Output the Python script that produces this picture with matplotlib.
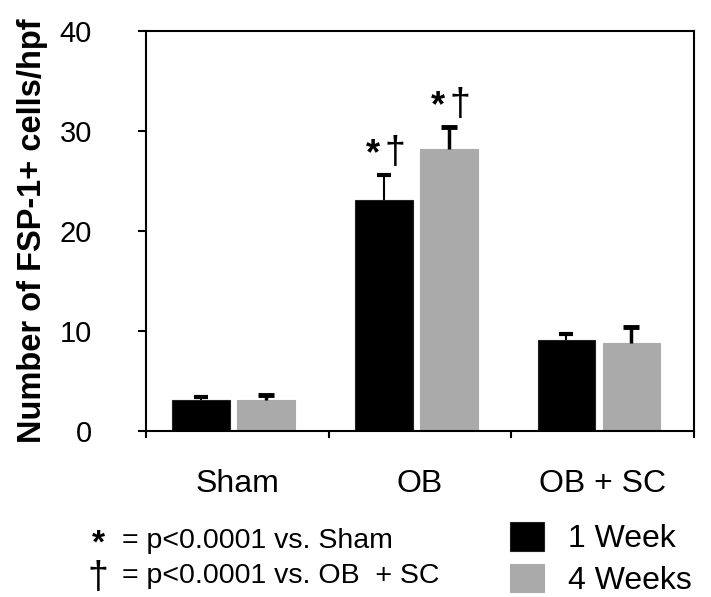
import numpy as np
import matplotlib
matplotlib.use("Agg")
import matplotlib.pyplot as plt

plt.rcParams['font.family'] = ['Liberation Sans', 'DejaVu Sans']

# data
groups = ['Sham', 'OB', 'OB + SC']
week1 = [3.1, 23.1, 9.15]
week1_err = [0.3, 2.5, 0.55]
week4 = [3.1, 28.25, 8.8]
week4_err = [0.5, 2.15, 1.6]
series_names = ['1 Week', '4 Weeks']
signif = [False, True, False]

fig = plt.figure(figsize=(7.11, 5.97), dpi=100)
ax = fig.add_axes([0.2053, 0.278, 0.7707, 0.67])

x = np.arange(len(groups))
w = 0.315
x1 = x - 0.198
x2 = x + 0.158
gray = '#aaaaaa'

b1 = ax.bar(x1, week1, w, color='black', edgecolor='#222222', linewidth=0.8,
            label=series_names[0], zorder=2)
b2 = ax.bar(x2, week4, w, color=gray, edgecolor=gray, linewidth=0.8,
            label=series_names[1], zorder=2)

# upper error bars only (hide the lower caps)
e1 = ax.errorbar(x1, week1, yerr=[np.zeros(3), week1_err], fmt='none',
                 ecolor='black', elinewidth=1.5, capsize=5, capthick=3, zorder=3)
e2 = ax.errorbar(x2, week4, yerr=[np.zeros(3), week4_err], fmt='none',
                 ecolor='black', elinewidth=2.5, capsize=6, capthick=3.5, zorder=3)
e1[1][0].set_visible(False)
e2[1][0].set_visible(False)

# significance marks over the OB bars
for i in range(len(groups)):
    if signif[i]:
        for xc, top in [(x1[i], week1[i] + week1_err[i]), (x2[i], week4[i] + week4_err[i])]:
            ax.annotate('*', (xc, top + 2.0), xytext=(-8, 0), textcoords='offset points',
                        ha='center', va='center', fontsize=26, fontweight='bold')
            ax.annotate('\u2020', (xc, top + 2.2), xytext=(8, 0), textcoords='offset points',
                        ha='center', va='center', fontsize=27)

ax.set_xlim(-0.5, 2.5)
ax.set_ylim(0, 40)
ax.set_yticks([0, 10, 20, 30, 40])
ax.tick_params(axis='y', direction='out', length=6, width=1.5, labelsize=21, pad=33)
for lab in ax.get_yticklabels():
    lab.set_horizontalalignment('right')

ax.set_xticks([-0.5, 0.5, 1.5, 2.5])
ax.set_xticklabels([])
ax.tick_params(axis='x', which='major', direction='out', length=5, width=1.5)
ax.set_xticks(x, minor=True)
ax.set_xticklabels(groups, minor=True)
ax.tick_params(axis='x', which='minor', length=0, labelsize=23, pad=27)

for s in ax.spines.values():
    s.set_linewidth(1.5)

ax.set_ylabel('Number of FSP-1+ cells/hpf', fontsize=23.5, fontweight='bold', labelpad=8)

# footnotes
fig.text(98 / 711, 1 - 553 / 597, '*', fontsize=24, fontweight='bold', ha='center', va='baseline')
fig.text(122 / 711, 1 - 548 / 597, '= p<0.0001 vs. Sham', fontsize=20.5, va='baseline')
fig.text(98 / 711, 1 - 588 / 597, '\u2020', fontsize=27, ha='center', va='baseline')
fig.text(122 / 711, 1 - 583 / 597, '= p<0.0001 vs. OB  + SC', fontsize=20.5, va='baseline')

fig.legend(handles=[b1, b2], labels=series_names, loc='upper left',
           bbox_to_anchor=(510 / 711, 1 - 522 / 597), frameon=False, fontsize=23,
           handlelength=1.05, handleheight=1.0, handletextpad=0.75, labelspacing=0.3,
           borderpad=0, borderaxespad=0)

fig.savefig('out.png', dpi=100)
